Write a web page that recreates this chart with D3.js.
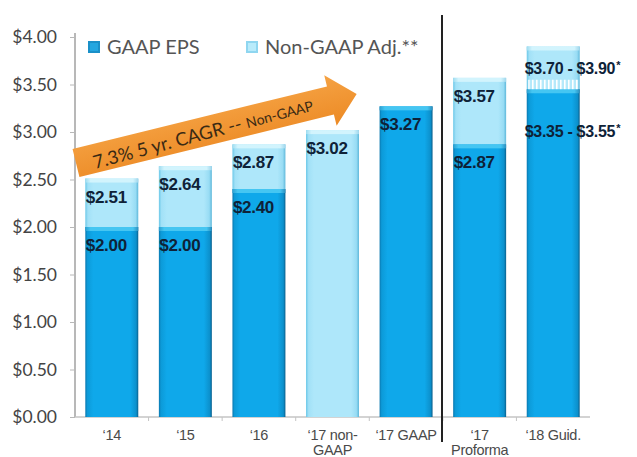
<!DOCTYPE html>
<html><head><meta charset="utf-8">
<script src="https://cdn.jsdelivr.net/npm/d3@7"></script>
<style>body{margin:0;background:#fff}svg{display:block}</style>
</head><body>
<script>
const categories = ["‘14", "‘15", "‘16", "‘17 non-GAAP", "‘17 GAAP", "‘17 Proforma", "‘18 Guid."];
const catLines = [["‘14"], ["‘15"], ["‘16"], ["‘17 non-", "GAAP"], ["‘17 GAAP"], ["‘17", "Proforma"], ["‘18 Guid."]];
const gaapEPS = [2.00, 2.00, 2.40, 0, 3.27, 2.87, 3.45];
const totalEPS = [2.51, 2.64, 2.87, 3.02, 3.27, 3.57, 3.90];
const gaapLabels = ["$2.00", "$2.00", "$2.40", null, "$3.27", "$2.87", null];
const totalLabels = ["$2.51", "$2.64", "$2.87", "$3.02", null, "$3.57", null];
const guidRange = [3.45, 3.55];
const guidLabels = ["$3.70 - $3.90", "$3.35 - $3.55"];
const yTicks = [0, 0.5, 1, 1.5, 2, 2.5, 3, 3.5, 4];
const legendItems = ["GAAP EPS", "Non-GAAP Adj.**"];
const arrowText = ["7.3% 5 yr. CAGR -- ", "Non-GAAP"];

const W = 637, H = 457;
const svg = d3.select("body").append("svg").attr("width", W).attr("height", H);
const defs = svg.append("defs");

function hGrad(id, stops) {
  const g = defs.append("linearGradient").attr("id", id).attr("x1", 0).attr("x2", 1).attr("y1", 0).attr("y2", 0);
  stops.forEach(s => g.append("stop").attr("offset", s[0]).attr("stop-color", s[1]));
}
hGrad("gDark", [[0, "#0a78b0"], [0.04, "#0c9ad8"], [0.15, "#0fa8ea"], [0.85, "#0fa8ea"], [0.96, "#0c90cc"], [1, "#0a5f8c"]]);
hGrad("gLight", [[0, "#6cc8e8"], [0.05, "#a2e1f7"], [0.15, "#aee7fa"], [0.85, "#aee7fa"], [0.95, "#98dcf4"], [1, "#5fb8da"]]);
hGrad("gDarkCap", [[0, "#2a9fd0"], [0.1, "#45c6f2"], [0.9, "#45c6f2"], [1, "#2a8fbf"]]);
hGrad("gLightCap", [[0, "#9fdcf0"], [0.1, "#d2f4fd"], [0.9, "#d2f4fd"], [1, "#9fd6ec"]]);
const ag = defs.append("linearGradient").attr("id", "gArrow").attr("x1", 0).attr("x2", 0).attr("y1", 0).attr("y2", 1);
ag.append("stop").attr("offset", 0).attr("stop-color", "#f5a243");
ag.append("stop").attr("offset", 1).attr("stop-color", "#ec8a25");
const hp = defs.append("pattern").attr("id", "hatch").attr("patternUnits", "userSpaceOnUse").attr("width", 4).attr("height", 4);
hp.append("rect").attr("width", 4).attr("height", 4).attr("fill", "#b5e9fa");
hp.append("rect").attr("x", 0).attr("width", 1.6).attr("height", 4).attr("fill", "#ffffff");

const x = d3.scaleBand().domain(categories).range([75, 590]).paddingInner(0.28).paddingOuter(0.14);
const y = d3.scaleLinear().domain([0, 4]).range([417, 37]);
const bw = x.bandwidth();

// axes
const yAxis = svg.append("g").attr("transform", "translate(75,0)")
  .call(d3.axisLeft(y).tickValues(yTicks).tickSize(5).tickPadding(13).tickFormat(d => "$" + d.toFixed(2)));
yAxis.select(".domain").attr("stroke", "#b8b8b8").attr("stroke-width", 2).attr("d", "M0,33V417");
yAxis.selectAll(".tick line").attr("stroke", "#b8b8b8");
yAxis.selectAll(".tick text").attr("font-family", "Lato, 'Open Sans', sans-serif").attr("font-size", 17.5).attr("fill", "#444");

const xg = svg.append("g").attr("transform", "translate(0,417)");
xg.append("line").attr("x1", 75).attr("x2", 590).attr("stroke", "#c4c4c4").attr("stroke-width", 1.5);
categories.forEach((c, i) => {
  if (i > 0) {
    const bx = x(c) - x.step() * x.paddingInner() / 2;
    xg.append("line").attr("x1", bx).attr("x2", bx).attr("y1", 0).attr("y2", 4).attr("stroke", "#c4c4c4");
  }
  const t = xg.append("text").attr("x", x(c) + bw / 2).attr("y", 23).attr("text-anchor", "middle")
    .attr("font-family", "Liberation Sans, Arial, sans-serif").attr("font-size", 14.5).attr("fill", "#4a4a4a")
    .attr("letter-spacing", -0.3);
  catLines[i].forEach((ln, j) => t.append("tspan").attr("x", x(c) + bw / 2).attr("dy", j ? 15 : 0).text(ln));
});

// bars
const bars = svg.append("g");
categories.forEach((c, i) => {
  const x0 = x(c);
  const g = gaapEPS[i], t = totalEPS[i];
  if (t > g) {
    bars.append("rect").attr("x", x0).attr("width", bw).attr("y", y(t)).attr("height", y(g) - y(t)).attr("fill", "url(#gLight)");
    bars.append("rect").attr("x", x0).attr("width", bw).attr("y", y(t)).attr("height", 4).attr("fill", "url(#gLightCap)");
  }
  if (g > 0) {
    bars.append("rect").attr("x", x0).attr("width", bw).attr("y", y(g)).attr("height", y(0) - y(g)).attr("fill", "url(#gDark)");
    bars.append("rect").attr("x", x0).attr("width", bw).attr("y", y(g)).attr("height", 4).attr("fill", "url(#gDarkCap)");
  }
});
const gx = x(categories[6]);
bars.append("rect").attr("x", gx + 1.5).attr("width", bw - 3).attr("y", y(guidRange[1])).attr("height", y(guidRange[0]) - y(guidRange[1])).attr("fill", "url(#hatch)");

// value labels
const lab = svg.append("g").attr("font-family", "Liberation Sans, Arial, sans-serif").attr("font-weight", "bold")
  .attr("font-size", 17).attr("fill", "#0e2238").attr("letter-spacing", -0.3);
categories.forEach((c, i) => {
  if (totalLabels[i]) lab.append("text").attr("x", x(c) + 0.5).attr("y", y(totalEPS[i]) + 24).text(totalLabels[i]);
  if (gaapLabels[i]) lab.append("text").attr("x", x(c) + 0.5).attr("y", y(gaapEPS[i]) + 24).text(gaapLabels[i]);
});
[[guidLabels[0], y(totalEPS[6]) + 27], [guidLabels[1], y(guidRange[0]) + 48]].forEach(d => {
  const t = lab.append("text").attr("x", gx - 2).attr("y", d[1]).attr("font-size", 16).text(d[0]);
  t.append("tspan").attr("font-size", 11).attr("dy", -5).attr("dx", 1).text("*");
});

// separator
svg.append("line").attr("x1", 442).attr("x2", 442).attr("y1", 15).attr("y2", 442).attr("stroke", "#222").attr("stroke-width", 2);

// legend
const leg = svg.append("g");
const legX = [88, 246];
leg.append("rect").attr("x", legX[0]).attr("y", 41).attr("width", 12).attr("height", 12).attr("fill", "#1a90c8");
leg.append("rect").attr("x", legX[0] + 2).attr("y", 43).attr("width", 8).attr("height", 8).attr("fill", "#23a6e0");
leg.append("rect").attr("x", legX[1]).attr("y", 41).attr("width", 12).attr("height", 12).attr("fill", "#8fd6f0");
leg.append("rect").attr("x", legX[1] + 2).attr("y", 43).attr("width", 8).attr("height", 8).attr("fill", "#b8ebfb");
legendItems.forEach((t, i) => leg.append("text").attr("x", legX[i] + 19).attr("y", 54)
  .attr("font-family", "Lato, 'Open Sans', sans-serif").attr("font-size", 20).attr("fill", "#555").text(t));

// arrow
const arr = svg.append("g").attr("transform", "translate(76,163) rotate(-13.8)");
arr.append("path").attr("d", "M0,-14.5L262,-14.5L262,-26L289,0L262,26L262,14.5L0,14.5Z").attr("fill", "url(#gArrow)");
const at = svg.append("text").attr("transform", "translate(95,169) rotate(-15)")
  .attr("font-family", "Lato, 'Open Sans', sans-serif").attr("fill", "#3a2a14");
at.append("tspan").attr("font-size", 18.5).text(arrowText[0]);
at.append("tspan").attr("font-size", 14).text(arrowText[1]);
</script>
</body></html>
